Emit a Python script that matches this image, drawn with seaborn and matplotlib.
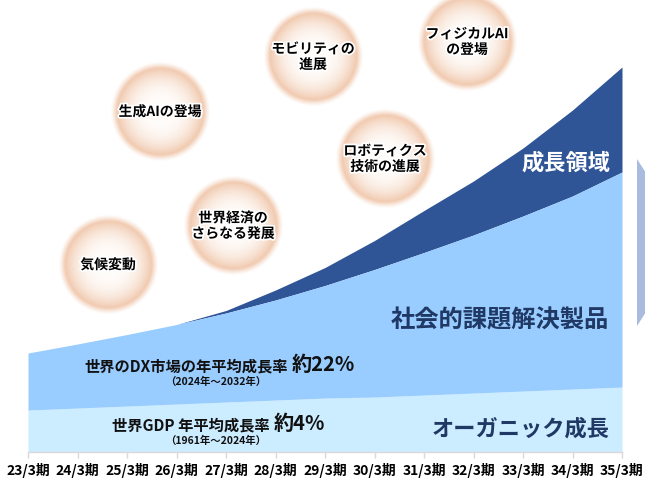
import numpy as np
import matplotlib
matplotlib.use("Agg")
import matplotlib.pyplot as plt
import matplotlib.patheffects as pe
from matplotlib.patches import Polygon
import pandas as pd
import seaborn as sns

# ---------------- data ----------------
periods = ["23/3期", "24/3期", "25/3期", "26/3期", "27/3期", "28/3期", "29/3期",
           "30/3期", "31/3期", "32/3期", "33/3期", "34/3期", "35/3期"]
organic = [42, 44, 46, 48, 50, 52, 54, 55, 57, 59, 61, 63, 65]
social = [57, 64, 71.5, 79.5, 89, 100, 112.5, 127.5, 142.5, 158, 175, 193, 215]
growth = [0, 0, 0, 0, 2.5, 10, 18, 29, 42, 54, 68, 86, 105]

layer_names = ["オーガニック成長", "社会的課題解決製品", "成長領域"]
drivers = ["気候変動", "世界経済の\nさらなる発展", "生成AIの登場",
           "モビリティの\n進展", "ロボティクス\n技術の進展", "フィジカルAI\nの登場"]

# ---------------- style ----------------
sns.set_theme(style="white")
plt.rcParams['font.family'] = ['Noto Sans CJK JP', 'DejaVu Sans']

c_org = "#CCECFF"
c_soc = "#99CCFF"
c_gro = "#2F5597"
navy = "#1F3864"

W, H = 645, 481
fig = plt.figure(figsize=(W / 100, H / 100), dpi=100)
ax = fig.add_axes([28 / W, 28 / H, 594 / W, 453 / H])

x = np.arange(len(periods))
df = pd.DataFrame({"period": x, "organic": organic, "social": social, "growth": growth})
df["top_org"] = df["organic"]
df["top_soc"] = df["top_org"] + df["social"]
df["top_gro"] = df["top_soc"] + df["growth"]

ax.fill_between(df["period"], 0, df["top_org"], color=c_org, lw=0, zorder=1)
ax.fill_between(df["period"], df["top_org"], df["top_soc"], color=c_soc, lw=0, zorder=2)
ax.fill_between(df["period"], df["top_soc"], df["top_gro"], color=c_gro, lw=0, zorder=1.5)
sns.lineplot(data=df, x="period", y="top_org", ax=ax, color=c_org, lw=0.6, zorder=1.2)

ax.set_xlim(0, len(periods) - 1)
ax.set_ylim(0, 453)
ax.set_xticks(x)
ax.set_xticklabels(periods, fontsize=10, fontweight="bold", color="black")
ax.set_yticks([])
ax.set_xlabel("")
ax.set_ylabel("")
ax.tick_params(axis="x", length=4, width=1, color="#D9D9D9", pad=3, bottom=True)
for s in ["left", "top", "right"]:
    ax.spines[s].set_visible(False)
ax.spines["bottom"].set_color("#D9D9D9")
ax.spines["bottom"].set_linewidth(1)
ax.set_facecolor("none")

# ---------------- overlay (pixel coords) ----------------
ov = fig.add_axes([0, 0, 1, 1], zorder=5)
ov.axis("off")
ov.patch.set_alpha(0)

def bubble(cx, cy, R=44):
    ext = R * 1.16
    n = 180
    g = np.linspace(-ext, ext, n)
    X, Y = np.meshgrid(g, g)
    r = np.sqrt(X ** 2 + Y ** 2) / R
    peach = np.array([240, 198, 170]) / 255
    white = np.array([255, 253, 251]) / 255
    t = np.clip(r, 0, 1) ** 3.0
    rgb = white[None, None, :] * (1 - t[..., None]) + peach[None, None, :] * t[..., None]
    alpha = np.where(r <= 0.97, 1.0, np.clip(1 - (r - 0.97) / 0.16, 0, 1) ** 1.3)
    img = np.dstack([rgb, alpha])
    ov.imshow(img, extent=[cx - ext, cx + ext, cy + ext, cy - ext], interpolation="bilinear",
              zorder=1)

centers = [(108, 266), (233, 227), (160, 113), (313, 58), (385, 160), (467, 43)]
for (cx, cy), lab in zip(centers, drivers):
    bubble(cx, cy)
    ov.text(cx, cy, lab, ha="center", va="center", fontsize=10, fontweight="bold",
            color="black", linespacing=1.15, zorder=3,
            path_effects=[pe.withStroke(linewidth=2.5, foreground="white")])

ov.set_xlim(0, W)
ov.set_ylim(H, 0)

# layer labels
ov.text(610, 163, layer_names[2], ha="right", va="center", fontsize=16,
        fontweight="bold", color="white", zorder=3)
ov.text(609, 320, layer_names[1], ha="right", va="center", fontsize=17.5,
        fontweight="bold", color=navy, zorder=3)
ov.text(610, 429, layer_names[0], ha="right", va="center", fontsize=16,
        fontweight="bold", color=navy, zorder=3)

# growth-rate notes
ov.text(288, 371, "世界のDX市場の年平均成長率", ha="right", va="baseline",
        fontsize=11, fontweight="bold", color="#111111", zorder=3)
ov.text(292, 371, "約22%", ha="left", va="baseline",
        fontsize=14.5, fontweight="bold", color="#111111", zorder=3)
ov.text(216, 382, "（2024年～2032年）", ha="center", va="center",
        fontsize=7.5, fontweight="bold", color="#111111", zorder=3)

ov.text(270, 430, "世界GDP 年平均成長率", ha="right", va="baseline",
        fontsize=11, fontweight="bold", color="#111111", zorder=3)
ov.text(274, 430, "約4%", ha="left", va="baseline",
        fontsize=14.5, fontweight="bold", color="#111111", zorder=3)
ov.text(216, 441, "（1961年～2024年）", ha="center", va="center",
        fontsize=7.5, fontweight="bold", color="#111111", zorder=3)

# right chevron (decoration)
ov.add_patch(Polygon([(637, 160), (646, 174), (646, 313), (637, 327)],
                     closed=True, facecolor="#A9BCE0", edgecolor="none", zorder=2))

fig.savefig("out.png", dpi=100)
